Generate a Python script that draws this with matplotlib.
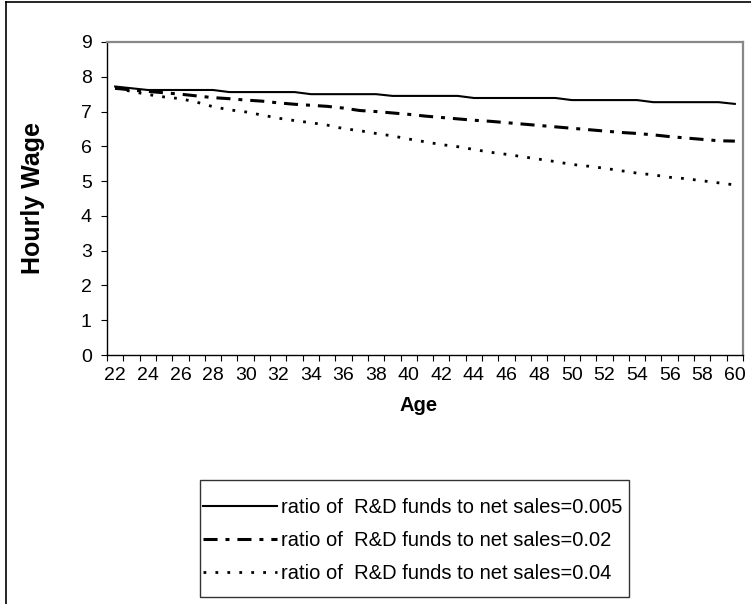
import numpy as np
import matplotlib
matplotlib.use('Agg')
import matplotlib.pyplot as plt
from matplotlib.lines import Line2D
from matplotlib.patches import Rectangle

plt.rcParams['font.family'] = ['Liberation Sans', 'DejaVu Sans']

ages = list(range(22, 61))

wage_005 = [7.72, 7.67,
            7.62, 7.62, 7.62, 7.62, 7.62,
            7.56, 7.56, 7.56, 7.56, 7.56,
            7.50, 7.50, 7.50, 7.50, 7.50,
            7.45, 7.45, 7.45, 7.45, 7.45,
            7.39, 7.39, 7.39, 7.39, 7.39, 7.39,
            7.33, 7.33, 7.33, 7.33, 7.33,
            7.27, 7.27, 7.27, 7.27, 7.27,
            7.22]

wage_02 = [7.67, 7.62, 7.58, 7.54, 7.50, 7.45, 7.40, 7.37, 7.33, 7.30,
           7.25, 7.21, 7.18, 7.15, 7.10, 7.03, 7.00, 6.96, 6.92, 6.87,
           6.83, 6.79, 6.75, 6.72, 6.68, 6.64, 6.60, 6.56, 6.52, 6.48,
           6.44, 6.40, 6.37, 6.33, 6.28, 6.24, 6.20, 6.16, 6.15]

wage_04 = [7.67, 7.58, 7.49, 7.42, 7.37, 7.27, 7.14, 7.05, 6.99, 6.90,
           6.81, 6.74, 6.68, 6.61, 6.51, 6.45, 6.37, 6.30, 6.21, 6.13,
           6.05, 5.99, 5.91, 5.83, 5.77, 5.70, 5.63, 5.56, 5.48, 5.43,
           5.37, 5.30, 5.23, 5.18, 5.11, 5.07, 5.01, 4.95, 4.89]

labels = ['ratio of  R&D funds to net sales=0.005',
          'ratio of  R&D funds to net sales=0.02',
          'ratio of  R&D funds to net sales=0.04']

fig = plt.figure(figsize=(7.51, 6.04), dpi=100)
ax = fig.add_axes([107/751, 1 - 355/604, 636/751, 313/604])

x = np.arange(len(ages))
ax.plot(x, wage_005, color='black', lw=1.5, ls='-', label=labels[0])
ax.plot(x, wage_02, color='black', lw=2.2, ls=(0, (4.6, 2.6, 1.3, 2.6)),
        dash_capstyle='butt', label=labels[1])
ax.plot(x, wage_04, color='black', lw=2.0, ls=(0, (1.0, 3.3)),
        dash_capstyle='butt', label=labels[2])

ax.set_xlim(-0.5, len(ages) - 0.5)
ax.set_ylim(0, 9)
ax.set_yticks(range(0, 10))
ax.tick_params(axis='y', direction='out', length=4, width=0.8, pad=7, labelsize=14)

# category boundaries as tick marks, labels every second age
ax.set_xticks(np.arange(-0.5, len(ages), 1.0))
ax.set_xticklabels([])
ax.set_xticks(x[::2], minor=True)
ax.set_xticklabels([str(a) for a in ages[::2]], minor=True)
ax.tick_params(axis='x', which='major', direction='out', length=4, width=0.8)
ax.tick_params(axis='x', which='minor', length=0, pad=9, labelsize=14)

for s in ['left', 'bottom']:
    ax.spines[s].set_color('black')
    ax.spines[s].set_linewidth(1.0)
for s in ['top', 'right']:
    ax.spines[s].set_color('#888888')
    ax.spines[s].set_linewidth(1.6)

ax.set_xlabel('Age', fontsize=14.5, fontweight='bold')
ax.xaxis.set_label_coords(0.49, -0.13)
ax.set_ylabel('Hourly Wage', fontsize=18, fontweight='bold')
ax.yaxis.set_label_coords(-0.097, 0.5)

# legend box drawn separately so the handles can sit close to its left edge
fig.add_artist(Rectangle((200/751, 1 - 597/604), 429/751, 117/604,
                         transform=fig.transFigure, fill=False,
                         edgecolor='#333333', lw=1.0))
leg = fig.legend(loc='upper left', bbox_to_anchor=(200/751, 1 - 495/604),
                 fontsize=14.5, frameon=False,
                 handlelength=3.68, handletextpad=0.2, labelspacing=0.7,
                 borderpad=0.15, borderaxespad=0)

# outer chart border (left and top edges visible)
fig.add_artist(Line2D([6.5/751, 6.5/751], [0, 1 - 1.5/604], color='black', lw=1.2))
fig.add_artist(Line2D([6.5/751, 1], [1 - 1.5/604, 1 - 1.5/604], color='black', lw=1.2))

fig.savefig('out.png', dpi=100)
